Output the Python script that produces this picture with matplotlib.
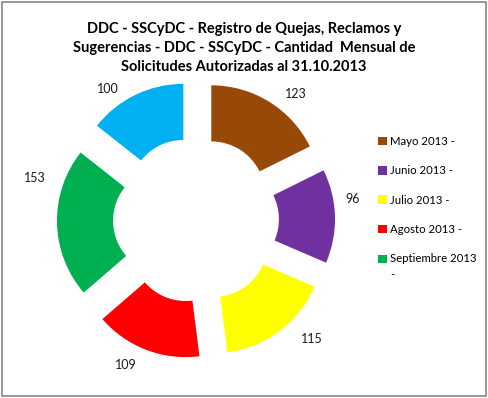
import matplotlib.pyplot as plt
from matplotlib.patches import Rectangle
from matplotlib.transforms import offset_copy

months = ["Mayo 2013 -", "Junio 2013 -", "Julio 2013 -", "Agosto 2013 -",
          "Septiembre 2013\n-", "Octubre 2013 -"]
values = [123, 96, 115, 109, 153, 100]
colors = ["#984807", "#7030A0", "#FFFF00", "#FF0000", "#00B050", "#00B0F0"]

# small nudges (points) to move data labels where Excel put them
label_nudges = [(11, -8), (-3, 12), (14, 7), (-9, 4), (0, 33), (-13, -10)]

plt.rcParams['font.family'] = ['Lato', 'DejaVu Sans']

fig = plt.figure(figsize=(4.88, 3.98), dpi=100, facecolor="white")
fig.patches.append(Rectangle((0.004, 0.004), 0.992, 0.992, transform=fig.transFigure,
                             fill=False, ec="#868686", lw=1.2))

fig.text(0.5, 0.945,
         "DDC - SSCyDC - Registro de Quejas, Reclamos y\n"
         "Sugerencias - DDC - SSCyDC - Cantidad  Mensual de\n"
         "Solicitudes Autorizadas al 31.10.2013",
         ha="center", va="top", fontsize=10.5, fontweight="bold",
         linespacing=1.45)

# 1 data unit ~ 110 px, centre at (196, 220) px
w = 319 / 488
h = 319 / 398
ax = fig.add_axes([196 / 488 - w / 2, (1 - 220 / 398) - h / 2, w, h])
wedges, texts = ax.pie(values, colors=colors, startangle=90, counterclock=False,
                       explode=[0.264] * len(values), radius=1.0,
                       labels=[str(v) for v in values], labeldistance=1.2,
                       wedgeprops=dict(width=0.51, linewidth=0),
                       textprops=dict(fontsize=9, color="#1a1a1a"))
for t, (dx, dy) in zip(texts, label_nudges):
    t.set_ha("center")
    t.set_va("center")
    t.set_transform(offset_copy(ax.transData, fig=fig, x=dx, y=dy, units="points"))
ax.set_aspect("equal")
ax.set_xlim(-1.45, 1.45)
ax.set_ylim(-1.45, 1.45)

leg = fig.legend(wedges[:5], months[:5], loc="upper left", bbox_to_anchor=(0.775, 0.658),
                 frameon=False, fontsize=8.2, handlelength=0.75, handleheight=0.75,
                 handletextpad=0.3, labelspacing=1.6, borderpad=0, borderaxespad=0)
for t in leg.get_texts():
    t.set_linespacing(1.6)
# two-line entry: put its square next to the first line
sq = leg.legend_handles[4]
sq.set_y(sq.get_y() + 6)

fig.savefig("out.png", dpi=100)
